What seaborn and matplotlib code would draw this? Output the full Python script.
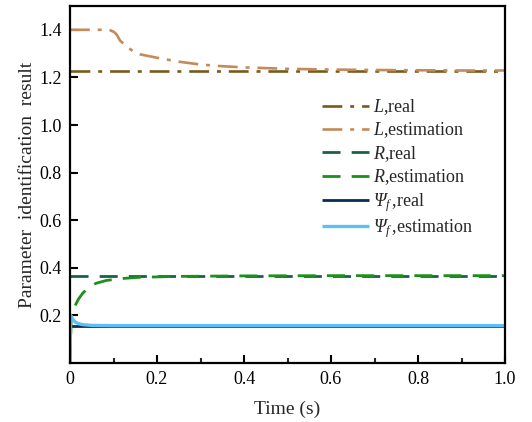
import numpy as np
import pandas as pd
import matplotlib
matplotlib.use("Agg")
import matplotlib.pyplot as plt
import seaborn as sns

# ---- data ----
t_real = [0.0, 1.0]
L_real = [1.228, 1.228]
R_real = [0.367, 0.367]
Psi_real = [0.155, 0.155]

t_L_est = [0.0, 0.09, 0.10, 0.107, 0.115, 0.13, 0.145, 0.161, 0.185, 0.21, 0.25, 0.30,
           0.35, 0.40, 0.50, 0.60, 0.70, 0.80, 0.90, 1.0]
L_est = [1.40, 1.40, 1.392, 1.381, 1.355, 1.330, 1.310, 1.297, 1.288, 1.279, 1.266, 1.254,
         1.247, 1.242, 1.236, 1.233, 1.231, 1.230, 1.229, 1.229]

t_R_est = [0.0, 0.003, 0.01, 0.02, 0.03, 0.046, 0.06, 0.084, 0.12, 0.16, 0.25, 0.40, 0.60, 1.0]
R_est = [0.0, 0.20, 0.235, 0.27, 0.295, 0.321, 0.335, 0.347, 0.355, 0.360, 0.364, 0.366, 0.367, 0.367]

t_Psi_est = [0.0, 0.0015, 0.004, 0.008, 0.012, 0.02, 0.03, 0.05, 0.10, 0.30, 1.0]
Psi_est = [0.0, 0.20, 0.192, 0.180, 0.172, 0.165, 0.161, 0.158, 0.157, 0.157, 0.157]

labels = [r"$L$,real", r"$L$,estimation", r"$R$,real", r"$R$,estimation",
          r"$\Psi_{f}\,$,real", r"$\Psi_{f}\,$,estimation"]

x_ticks = [0, 0.2, 0.4, 0.6, 0.8, 1.0]
x_ticklabels = ["0", "0.2", "0.4", "0.6", "0.8", "1.0"]
y_ticks = [0.2, 0.4, 0.6, 0.8, 1.0, 1.2, 1.4]
y_ticklabels = ["0.2", "0.4", "0.6", "0.8", "1.0", "1.2", "1.4"]

# ---- style ----
sns.set_style("ticks")
plt.rcParams["font.family"] = ["Liberation Serif", "DejaVu Serif"]
plt.rcParams["mathtext.fontset"] = "custom"
# all math in this figure is italic (L, R, Psi_f)
plt.rcParams["mathtext.rm"] = "Liberation Serif:italic"
plt.rcParams["mathtext.it"] = "Liberation Serif:italic"
plt.rcParams["mathtext.bf"] = "Liberation Serif:bold"

fig = plt.figure(figsize=(5.32, 4.22), dpi=100)
ax = fig.add_axes([70 / 532, 1 - 363 / 422, 435 / 532, 357 / 422])

c_Lr, c_Le = "#7a5a1c", "#c48a5a"
c_Rr, c_Re = "#17614b", "#1c8f1c"
c_Pr, c_Pe = "#0c2c50", "#5cc0f6"

lw = 1.9
specs = [
    (t_real, L_real, c_Lr, (7.5, 3, 1.5, 3), labels[0], lw),
    (t_L_est, L_est, c_Le, (7.5, 3, 1.5, 3), labels[1], lw),
    (t_real, R_real, c_Rr, (6.5, 4), labels[2], 2.0),
    (t_R_est, R_est, c_Re, (6.5, 4), labels[3], 2.0),
    (t_real, Psi_real, c_Pr, None, labels[4], 2.0),
    (t_Psi_est, Psi_est, c_Pe, None, labels[5], 2.4),
]
for x, y, c, d, lab, w in specs:
    sns.lineplot(x=x, y=y, ax=ax, color=c, label=lab, linewidth=w,
                 estimator=None, sort=False)
    line = ax.lines[-1]
    if d is not None:
        line.set_dashes(d)
    line.set_dash_capstyle("butt")
    line.set_solid_capstyle("butt")

ax.set_xlim(0, 1.0)
ax.set_ylim(0, 1.5)
ax.set_xticks(x_ticks)
ax.set_xticklabels(x_ticklabels)
ax.set_yticks(y_ticks)
ax.set_yticklabels(y_ticklabels)
ax.set_xticks([0.1, 0.3, 0.5, 0.7, 0.9], minor=True)
ax.tick_params(axis="both", which="major", direction="in", length=5.5, width=1.5,
               labelsize=13, pad=6, colors="black")
ax.tick_params(axis="both", which="minor", direction="in", length=3.5, width=1.5)
for s in ax.spines.values():
    s.set_visible(True)
    s.set_linewidth(1.6)
    s.set_color("black")

ax.set_xlabel("Time (s)", fontsize=14, labelpad=9)
ax.set_ylabel("Parameter  identification  result", fontsize=14, labelpad=2)

leg = ax.legend(loc="upper left", bbox_to_anchor=(0.58, 0.745), frameon=False,
                fontsize=13, handlelength=2.6, handletextpad=0.2,
                labelspacing=0.2, borderpad=0, borderaxespad=0)

fig.savefig("out.png", dpi=100)
